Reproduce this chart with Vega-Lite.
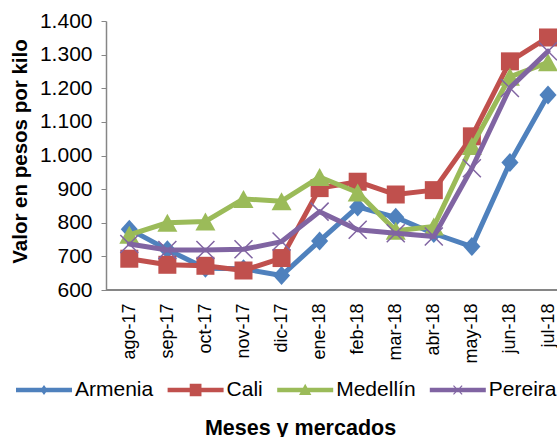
{
  "$schema": "https://vega.github.io/schema/vega-lite/v6.json",
  "autosize": "none",
  "width": 451,
  "height": 269,
  "padding": {"left": 106, "top": 21, "right": 0, "bottom": 147},
  "background": "white",
  "config": {
    "view": {"stroke": null},
    "font": "Liberation Sans",
    "axis": {"grid": false, "labelColor": "#000000", "titleColor": "#000000"}
  },
  "data": {
    "values": [
      {"month": "ago-17", "market": "Armenia", "value": 781},
      {"month": "sep-17", "market": "Armenia", "value": 720},
      {"month": "oct-17", "market": "Armenia", "value": 665},
      {"month": "nov-17", "market": "Armenia", "value": 663},
      {"month": "dic-17", "market": "Armenia", "value": 643},
      {"month": "ene-18", "market": "Armenia", "value": 746},
      {"month": "feb-18", "market": "Armenia", "value": 847},
      {"month": "mar-18", "market": "Armenia", "value": 816},
      {"month": "abr-18", "market": "Armenia", "value": 768},
      {"month": "may-18", "market": "Armenia", "value": 729},
      {"month": "jun-18", "market": "Armenia", "value": 979},
      {"month": "jul-18", "market": "Armenia", "value": 1180},
      {"month": "ago-17", "market": "Cali", "value": 693},
      {"month": "sep-17", "market": "Cali", "value": 675},
      {"month": "oct-17", "market": "Cali", "value": 672},
      {"month": "nov-17", "market": "Cali", "value": 658},
      {"month": "dic-17", "market": "Cali", "value": 695},
      {"month": "ene-18", "market": "Cali", "value": 903},
      {"month": "feb-18", "market": "Cali", "value": 922},
      {"month": "mar-18", "market": "Cali", "value": 884},
      {"month": "abr-18", "market": "Cali", "value": 897},
      {"month": "may-18", "market": "Cali", "value": 1057},
      {"month": "jun-18", "market": "Cali", "value": 1280},
      {"month": "jul-18", "market": "Cali", "value": 1351},
      {"month": "ago-17", "market": "Medellín", "value": 764},
      {"month": "sep-17", "market": "Medellín", "value": 800},
      {"month": "oct-17", "market": "Medellín", "value": 804},
      {"month": "nov-17", "market": "Medellín", "value": 871},
      {"month": "dic-17", "market": "Medellín", "value": 864},
      {"month": "ene-18", "market": "Medellín", "value": 936},
      {"month": "feb-18", "market": "Medellín", "value": 890},
      {"month": "mar-18", "market": "Medellín", "value": 776},
      {"month": "abr-18", "market": "Medellín", "value": 789},
      {"month": "may-18", "market": "Medellín", "value": 1028},
      {"month": "jun-18", "market": "Medellín", "value": 1234},
      {"month": "jul-18", "market": "Medellín", "value": 1277},
      {"month": "ago-17", "market": "Pereira", "value": 737},
      {"month": "sep-17", "market": "Pereira", "value": 719},
      {"month": "oct-17", "market": "Pereira", "value": 719},
      {"month": "nov-17", "market": "Pereira", "value": 721},
      {"month": "dic-17", "market": "Pereira", "value": 744},
      {"month": "ene-18", "market": "Pereira", "value": 833},
      {"month": "feb-18", "market": "Pereira", "value": 779},
      {"month": "mar-18", "market": "Pereira", "value": 769},
      {"month": "abr-18", "market": "Pereira", "value": 759},
      {"month": "may-18", "market": "Pereira", "value": 962},
      {"month": "jun-18", "market": "Pereira", "value": 1201},
      {"month": "jul-18", "market": "Pereira", "value": 1310}
    ]
  },
  "layer": [
    {
      "mark": {"type": "rule", "color": "#868686", "strokeWidth": 1.5},
      "encoding": {
        "y": {
          "datum": 600,
          "type": "quantitative",
          "scale": {"domain": [600, 1400]},
          "axis": {
            "title": "Valor en pesos por kilo",
            "titleFontSize": 20.5,
            "titleFontWeight": "bold",
            "titleX": -86,
            "titleY": 130,
            "titleAlign": "center",
            "titleBaseline": "middle",
            "values": [600, 700, 800, 900, 1000, 1100, 1200, 1300, 1400],
            "labelExpr": "replace(format(datum.value, ',d'), ',', '.')",
            "labelFontSize": 21,
            "labelPadding": 9,
            "labelOverlap": false,
            "tickSize": 5,
            "tickColor": "#868686",
            "domainColor": "#868686",
            "domainWidth": 1.5
          }
        }
      }
    },
    {
      "encoding": {
        "x": {
          "field": "month",
          "type": "ordinal",
          "sort": ["ago-17", "sep-17", "oct-17", "nov-17", "dic-17", "ene-18", "feb-18", "mar-18", "abr-18", "may-18", "jun-18", "jul-18"],
          "scale": {"type": "point", "range": [23.3, 442], "padding": 0},
          "axis": {
            "title": "Meses y mercados",
            "titleFontSize": 21.5,
            "titleFontWeight": "bold",
            "titleX": 194,
            "titleY": 138,
            "titleAlign": "center",
            "titleBaseline": "middle",
            "labelAngle": -90,
            "labelFontSize": 18,
            "labelPadding": 13,
            "labelOverlap": false,
            "ticks": false,
            "domain": false
          }
        },
        "y": {
          "field": "value",
          "type": "quantitative",
          "scale": {"domain": [600, 1400]},
          "axis": {
            "title": "Valor en pesos por kilo",
            "titleFontSize": 20.5,
            "titleFontWeight": "bold",
            "titleX": -86,
            "titleY": 130,
            "titleAlign": "center",
            "titleBaseline": "middle",
            "values": [600, 700, 800, 900, 1000, 1100, 1200, 1300, 1400],
            "labelExpr": "replace(format(datum.value, ',d'), ',', '.')",
            "labelFontSize": 21,
            "labelPadding": 9,
            "labelOverlap": false,
            "tickSize": 5,
            "tickColor": "#868686",
            "domainColor": "#868686",
            "domainWidth": 1.5
          }
        }
      },
      "layer": [
        {
          "transform": [{"filter": "datum.market === 'Armenia'"}],
          "mark": {"type": "line", "color": "#4F81BD", "strokeWidth": 5, "strokeJoin": "round", "strokeCap": "round"},
          "encoding": {}
        },
        {
          "transform": [{"filter": "datum.market === 'Armenia'"}],
          "mark": {"type": "point", "filled": true, "opacity": 1, "color": "#4F81BD", "size": 361, "shape": "M0,-1L0.9,0L0,1L-0.9,0Z"},
          "encoding": {}
        },
        {
          "transform": [{"filter": "datum.market === 'Cali'"}],
          "mark": {"type": "line", "color": "#C0504D", "strokeWidth": 5, "strokeJoin": "round", "strokeCap": "round"},
          "encoding": {}
        },
        {
          "transform": [{"filter": "datum.market === 'Cali'"}],
          "mark": {"type": "point", "filled": true, "opacity": 1, "color": "#C0504D", "size": 324, "shape": "M-1,-1H1V1H-1Z"},
          "encoding": {}
        },
        {
          "transform": [{"filter": "datum.market === 'Medellín'"}],
          "mark": {"type": "line", "color": "#9BBB59", "strokeWidth": 5, "strokeJoin": "round", "strokeCap": "round"},
          "encoding": {}
        },
        {
          "transform": [{"filter": "datum.market === 'Medellín'"}],
          "mark": {"type": "point", "filled": true, "opacity": 1, "color": "#9BBB59", "size": 400, "shape": "M0,-0.9L1,0.9L-1,0.9Z"},
          "encoding": {}
        },
        {
          "transform": [{"filter": "datum.market === 'Pereira'"}],
          "mark": {"type": "line", "color": "#8064A2", "strokeWidth": 5, "strokeJoin": "round", "strokeCap": "round"},
          "encoding": {}
        },
        {
          "transform": [{"filter": "datum.market === 'Pereira'"}],
          "mark": {"type": "point", "filled": false, "opacity": 1, "color": "#8064A2", "strokeWidth": 1.5, "size": 324, "shape": "M-1,-1L1,1M-1,1L1,-1"},
          "encoding": {}
        },
        {
          "mark": {"type": "point", "filled": true, "opacity": 1, "clip": true},
          "encoding": {
            "y": {"datum": 0, "type": "quantitative", "scale": {"domain": [600, 1400]}},
            "color": {
              "field": "market",
              "type": "nominal",
              "scale": {"domain": ["Armenia", "Cali", "Medellín", "Pereira"], "range": ["#4F81BD", "#C0504D", "#9BBB59", "#8064A2"]},
              "legend": {"orient": "none", "legendX": -90, "legendY": 341, "direction": "horizontal", "title": null, "symbolSize": 3136, "labelOffset": 3, "columnPadding": 13.6, "labelFontSize": 21, "labelColor": "#000000", "padding": 0, "symbolStrokeWidth": 0}
            },
            "shape": {
              "field": "market",
              "type": "nominal",
              "scale": {
                "domain": ["Armenia", "Cali", "Medellín", "Pereira"],
                "range": [
                  "M-1,-0.08H1V0.08H-1Z M0,-0.18L0.13,0L0,0.18L-0.13,0Z",
                  "M-1,-0.08H1V0.08H-1Z M-0.21,-0.22H0.21V0.22H-0.21Z",
                  "M-1,-0.08H1V0.08H-1Z M0,-0.22L0.22,0.18L-0.22,0.18Z",
                  "M-1,-0.08H1V0.08H-1Z M-0.17,-0.14L-0.14,-0.17L0.17,0.14L0.14,0.17Z M-0.17,0.14L0.14,-0.17L0.17,-0.14L-0.14,0.17Z"
                ]
              },
              "legend": {"orient": "none", "legendX": -90, "legendY": 341, "direction": "horizontal", "title": null, "symbolSize": 3136, "labelOffset": 3, "columnPadding": 13.6, "labelFontSize": 21, "labelColor": "#000000", "padding": 0, "symbolStrokeWidth": 0}
            }
          }
        }
      ]
    }
  ]
}
